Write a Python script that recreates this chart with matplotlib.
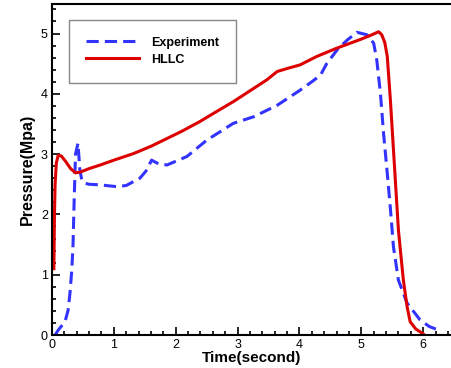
import matplotlib
matplotlib.use('Agg')
import matplotlib.pyplot as plt
from matplotlib.ticker import MultipleLocator

plt.rcParams['font.family'] = ['Liberation Sans', 'DejaVu Sans']

### data ###
exp_t = [0.05, 0.1, 0.21, 0.26, 0.29, 0.32, 0.34, 0.36, 0.38, 0.42, 0.45, 0.48,
         0.52, 0.6, 0.78, 1.05, 1.2, 1.42, 1.52, 1.61, 1.72, 1.86, 2.18, 2.5,
         2.93, 3.26, 3.64, 4.01, 4.2, 4.34, 4.44, 4.61, 4.77, 4.93, 5.09, 5.2,
         5.25, 5.31, 5.36, 5.42, 5.47, 5.52, 5.6, 5.74, 5.95, 6.1, 6.28]
exp_p = [0.0, 0.08, 0.22, 0.41, 0.69, 1.08, 1.5, 2.3, 3.0, 3.18, 2.74, 2.58,
         2.52, 2.5, 2.49, 2.46, 2.48, 2.6, 2.72, 2.9, 2.84, 2.82, 2.96, 3.23,
         3.51, 3.62, 3.81, 4.06, 4.2, 4.31, 4.5, 4.73, 4.89, 5.02, 4.98, 4.84,
         4.56, 4.0, 3.34, 2.68, 2.1, 1.46, 0.91, 0.53, 0.25, 0.14, 0.07]

hllc_t = [0.03, 0.04, 0.05, 0.07, 0.1, 0.15, 0.22, 0.3, 0.38, 0.45, 0.6, 0.78,
          1.0, 1.32, 1.6, 1.86, 2.1, 2.39, 2.65, 2.93, 3.2, 3.47, 3.64, 3.8,
          4.01, 4.28, 4.61, 4.98, 5.15, 5.28, 5.33, 5.38, 5.42, 5.47, 5.52,
          5.6, 5.68, 5.74, 5.79, 5.88, 5.97, 6.0]
hllc_p = [1.1, 2.0, 2.5, 2.85, 2.98, 2.97, 2.88, 2.76, 2.69, 2.7, 2.76, 2.82,
          2.9, 3.01, 3.13, 3.26, 3.38, 3.54, 3.7, 3.87, 4.05, 4.23, 4.37, 4.42,
          4.48, 4.62, 4.76, 4.9, 4.97, 5.03, 4.98, 4.85, 4.62, 3.9, 3.07,
          1.74, 0.91, 0.47, 0.22, 0.1, 0.04, 0.02]

fig = plt.figure(figsize=(4.51, 3.68), dpi=100)
ax = fig.add_axes([52/451, 33/368, 399/451, 331/368])

ax.plot(exp_t, exp_p, color='#3333FF', lw=2.2, linestyle=(0, (4, 2)), label='Experiment')
ax.plot(hllc_t, hllc_p, color='#DD0000', lw=2.2, label='HLLC')

ax.set_xlim(0, 6.45)
ax.set_ylim(0, 5.49)
ax.xaxis.set_major_locator(MultipleLocator(1))
ax.xaxis.set_minor_locator(MultipleLocator(0.2))
ax.yaxis.set_major_locator(MultipleLocator(1))
ax.yaxis.set_minor_locator(MultipleLocator(0.2))
ax.tick_params(which='both', direction='in', labelsize=9, width=1.2)
ax.tick_params(which='major', length=6, pad=3)
ax.tick_params(which='minor', length=3)

ax.spines['right'].set_visible(False)
for s in ['left', 'bottom', 'top']:
    ax.spines[s].set_linewidth(1.5)

ax.set_xlabel('Time(second)', fontsize=11, fontweight='bold', labelpad=0)
ax.set_ylabel('Pressure(Mpa)', fontsize=11.5, fontweight='bold', labelpad=4)

leg = ax.legend(loc='upper left', bbox_to_anchor=(0.043, 0.952),
                prop={'weight': 'bold', 'size': 9}, handlelength=4.2,
                handletextpad=1.0, borderpad=1.35, labelspacing=0.4,
                fancybox=False, framealpha=1, edgecolor='#888888', borderaxespad=0)
leg.get_frame().set_linewidth(1.0)

fig.savefig('out.png', dpi=100)
